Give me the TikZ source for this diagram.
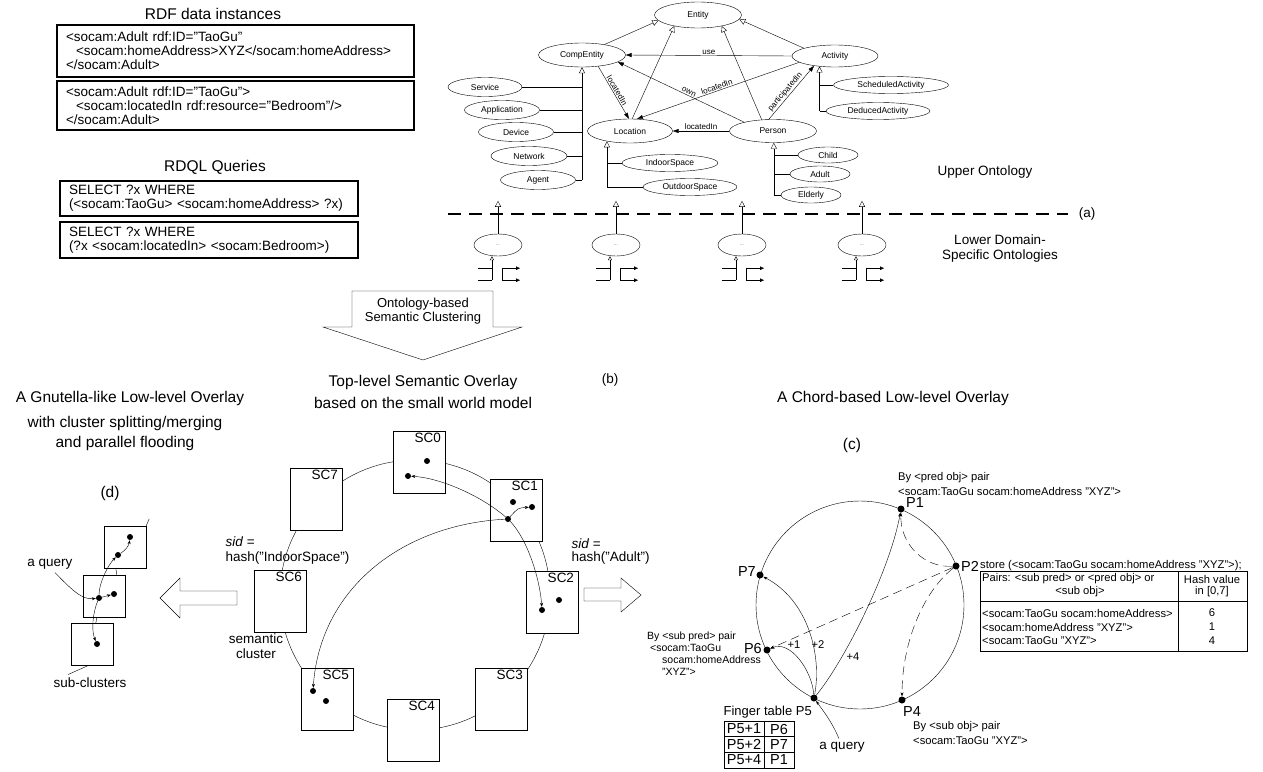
\documentclass[tikz,border=0pt]{standalone}
\usepackage{fontspec}
\setmainfont{Liberation Sans}
\usetikzlibrary{shapes.geometric}
\usetikzlibrary{arrows.meta}
\usetikzlibrary{calc}

\tikzset{
  onto/.style={draw, ellipse, inner sep=0, font=\fontsize{8.5}{9}\selectfont},
  lowonto/.style={draw, ellipse, inner sep=0, minimum width=48, minimum height=22, font=\fontsize{4}{4}\selectfont},
  isa/.style={-{Triangle[open, length=6pt, width=6pt]}},
  smallisa/.style={-{Triangle[open, length=4pt, width=4pt]}},
  rel/.style={-{Triangle[length=6pt, width=4pt]}},
  smallrel/.style={-{Triangle[length=4pt, width=3.5pt]}},
  edgelbl/.style={font=\fontsize{8}{9}\selectfont, inner sep=1},
  rdfbox/.style={draw, line width=1.1, inner xsep=9, align=left, font=\fontsize{13.5}{14}\selectfont},
  ttl/.style={font=\fontsize{15.5}{18}\selectfont},
  lbl/.style={font=\fontsize{13.5}{15}\selectfont},
  plbl/.style={font=\fontsize{14.5}{16}\selectfont, inner sep=1},
  sml/.style={font=\fontsize{11.2}{12.5}\selectfont, inner sep=1},
  scbox/.style={draw, fill=white, minimum width=52, minimum height=62, inner sep=0},
  subbox/.style={draw, fill=white, minimum width=42, minimum height=42, inner sep=0},
  dot/.style={circle, fill, inner sep=0, minimum size=6},
  qry/.style={-{Stealth[length=4pt, width=3pt]}},
}

\begin{document}
\begin{tikzpicture}[x=1pt, y=-1pt]
\useasboundingbox (0,0) rectangle (1263,771);

% RDF data and queries
\node[ttl] (t1) at (213,14) {RDF data instances};
\node[rdfbox, text width=339, minimum height=52] (r1) at (235.5,51) {<socam:Adult rdf:ID="TaoGu"\\\hspace*{10pt}<socam:homeAddress>XYZ</socam:homeAddress>\\</socam:Adult>};
\node[rdfbox, text width=339, minimum height=49] (r2) at (235.5,105.5) {<socam:Adult rdf:ID="TaoGu">\\\hspace*{10pt}<socam:locatedIn rdf:resource="Bedroom"/>\\</socam:Adult>};
\node[ttl] (t2) at (215,167) {RDQL Queries};
\node[rdfbox, text width=280, minimum height=35] (q1) at (209,198.5) {SELECT ?x WHERE\\(<socam:TaoGu> <socam:homeAddress> ?x)};
\node[rdfbox, text width=280, minimum height=36] (q2) at (209,240) {SELECT ?x WHERE\\(?x <socam:locatedIn> <socam:Bedroom>)};

% upper ontology
\node[onto, minimum width=87, minimum height=26] (ent) at (698,15) {Entity};
\node[onto, minimum width=87, minimum height=24] (comp) at (582,55) {CompEntity};
\node[onto, minimum width=86, minimum height=22] (act) at (835,56) {Activity};
\node[onto, minimum width=85, minimum height=24] (loc) at (630,131) {Location};
\node[onto, minimum width=87, minimum height=23] (per) at (773,131) {Person};
\node[onto, minimum width=74, minimum height=19] (serv) at (485,87) {Service};
\node[onto, minimum width=75, minimum height=19] (app) at (502,110) {Application};
\node[onto, minimum width=75, minimum height=19] (dev) at (516,132) {Device};
\node[onto, minimum width=76, minimum height=19] (net) at (529,156) {Network};
\node[onto, minimum width=75, minimum height=19] (agt) at (538,180) {Agent};
\node[onto, minimum width=96, minimum height=17] (ind) at (670,163) {IndoorSpace};
\node[onto, minimum width=94, minimum height=17] (outd) at (690,187) {OutdoorSpace};
\node[onto, minimum width=115, minimum height=17] (sched) at (891,85) {ScheduledActivity};
\node[onto, minimum width=104, minimum height=17] (ded) at (878,111) {DeducedActivity};
\node[onto, minimum width=60, minimum height=16] (chi) at (828,155) {Child};
\node[onto, minimum width=60, minimum height=16] (adu) at (820,174) {Adult};
\node[onto, minimum width=60, minimum height=16] (eld) at (811,195) {Elderly};

\draw[isa] (comp.25) -- (ent.188);
\draw[isa] (loc.80) -- (ent.205);
\draw[isa] (act.166) -- (ent.-6);
\draw[isa] (per.135) -- (ent.-25);
\draw[rel] (act.west) -- (comp.east) node[edgelbl, midway, above] {use};
\draw[rel] (comp.-35) -- (loc.95) node[edgelbl, midway, sloped, above] {locatedIn};
\draw[rel] (per.163) -- (comp.-11) node[edgelbl, pos=.45, sloped, above] {own};
\draw[rel] (act.190) -- (loc.60) node[edgelbl, pos=.5, sloped, above] {locatedIn};
\draw[rel] (per.west) -- (loc.east) node[edgelbl, midway, above] {locatedIn};
\draw[rel] (per.110) -- (act.205) node[edgelbl, pos=.45, sloped, above] {participatedIn};

\draw[isa] (agt.east -| comp.south) -- (comp.south);
\draw (serv.east) -- (serv.east -| comp.south);
\draw (app.east) -- (app.east -| comp.south);
\draw (dev.east) -- (dev.east -| comp.south);
\draw (net.east) -- (net.east -| comp.south);
\draw (agt.east) -- (agt.east -| comp.south);

\coordinate (loctop) at (loc.204);
\draw[isa] (outd.west -| loctop) -- (loctop);
\draw (ind.west) -- (ind.west -| loctop);
\draw (outd.west) -- (outd.west -| loctop);

\coordinate (acttop) at (act.214);
\draw[isa] (ded.west -| acttop) -- (acttop);
\draw (sched.west) -- (sched.west -| acttop);
\draw (ded.west) -- (ded.west -| acttop);

\coordinate (pertop) at (per.-86);
\draw[isa] (eld.west -| pertop) -- (pertop);
\draw (chi.west) -- (chi.west -| pertop);
\draw (adu.west) -- (adu.west -| pertop);
\draw (eld.west) -- (eld.west -| pertop);

\node[lbl] (uo) at (985,172) {Upper Ontology};
\draw[line width=2.2, dash pattern=on 13pt off 8pt] (448,214) -- (1068,214);
\node[lbl] (la) at (1087,214) {(a)};

% lower domain-specific ontologies
\node[lowonto] (lo1) at (498,245) {...};
\node[lowonto] (lo2) at (616,245) {...};
\node[lowonto] (lo3) at (742,245) {...};
\node[lowonto] (lo4) at (862,245) {...};
\draw[isa] (lo1.north) -- ++(0,-33);
\draw[isa] (lo2.north) -- ++(0,-33);
\draw[isa] (lo3.north) -- ++(0,-33);
\draw[isa] (lo4.north) -- ++(0,-33);

\draw[smallisa] ($(lo1.south)+(-6,24)$) -- ($(lo1.south)+(-6,0)$);
\draw ($(lo1.south)+(-20,12)$) -- ++(14,0);
\draw ($(lo1.south)+(-20,24)$) -- ++(14,0);
\draw ($(lo1.south)+(4,12)$) -- ++(0,12);
\draw[smallrel] ($(lo1.south)+(4,12)$) -- ++(18,0);
\draw[smallrel] ($(lo1.south)+(4,24)$) -- ++(18,0);

\draw[smallisa] ($(lo2.south)+(-6,24)$) -- ($(lo2.south)+(-6,0)$);
\draw ($(lo2.south)+(-20,12)$) -- ++(14,0);
\draw ($(lo2.south)+(-20,24)$) -- ++(14,0);
\draw ($(lo2.south)+(4,12)$) -- ++(0,12);
\draw[smallrel] ($(lo2.south)+(4,12)$) -- ++(18,0);
\draw[smallrel] ($(lo2.south)+(4,24)$) -- ++(18,0);

\draw[smallisa] ($(lo3.south)+(-6,24)$) -- ($(lo3.south)+(-6,0)$);
\draw ($(lo3.south)+(-20,12)$) -- ++(14,0);
\draw ($(lo3.south)+(-20,24)$) -- ++(14,0);
\draw ($(lo3.south)+(4,12)$) -- ++(0,12);
\draw[smallrel] ($(lo3.south)+(4,12)$) -- ++(18,0);
\draw[smallrel] ($(lo3.south)+(4,24)$) -- ++(18,0);

\draw[smallisa] ($(lo4.south)+(-6,24)$) -- ($(lo4.south)+(-6,0)$);
\draw ($(lo4.south)+(-20,12)$) -- ++(14,0);
\draw ($(lo4.south)+(-20,24)$) -- ++(14,0);
\draw ($(lo4.south)+(4,12)$) -- ++(0,12);
\draw[smallrel] ($(lo4.south)+(4,12)$) -- ++(18,0);
\draw[smallrel] ($(lo4.south)+(4,24)$) -- ++(18,0);

\node[lbl, align=center, font=\fontsize{13.5}{15}\selectfont] (lod) at (1000,249) {Lower Domain-\\Specific Ontologies};

% clustering arrow
\draw (352,291) -- (493,291) -- (493,327) -- (522,327) -- (423,360) -- (323,327) -- (352,327) -- cycle;
\node[align=center, font=\fontsize{13}{13.5}\selectfont] (clu) at (423,311) {Ontology-based\\Semantic Clustering};

% (b) top-level overlay
\node[ttl] (tb1) at (423,382) {Top-level Semantic Overlay};
\node[ttl] (tb2) at (423,403) {based on the small world model};
\node[lbl] (lb) at (610,380) {(b)};

\coordinate (rc) at (415,595);
\draw (rc) circle (135);
\node[scbox, label={[lbl, anchor=north east, inner xsep=4, inner ysep=2]north east:SC0}] (sc0) at (419,462) {};
\node[scbox, label={[lbl, anchor=north east, inner xsep=4, inner ysep=2]north east:SC1}] (sc1) at (516,510) {};
\node[scbox, label={[lbl, anchor=north east, inner xsep=4, inner ysep=2]north east:SC2}] (sc2) at (552,602) {};
\node[scbox, label={[lbl, anchor=north east, inner xsep=4, inner ysep=2]north east:SC3}] (sc3) at (501,699) {};
\node[scbox, label={[lbl, anchor=north east, inner xsep=4, inner ysep=2]north east:SC4}] (sc4) at (413,730) {};
\node[scbox, label={[lbl, anchor=north east, inner xsep=4, inner ysep=2]north east:SC5}] (sc5) at (327,699) {};
\node[scbox, label={[lbl, anchor=north east, inner xsep=4, inner ysep=2]north east:SC6}] (sc6) at (280,601) {};
\node[scbox, label={[lbl, anchor=north east, inner xsep=4, inner ysep=2]north east:SC7}] (sc7) at (316,499) {};

\node[dot] (d0a) at (427,461) {};
\node[dot] (d0b) at (408,476) {};
\node[dot] (d1a) at (513,502) {};
\node[dot] (d1b) at (532,507) {};
\node[dot] (qs) at (508,519) {};
\node[dot] (d2a) at (559,600) {};
\node[dot] (d2b) at (542,610) {};
\node[dot] (d5a) at (313,691) {};
\node[dot] (d5b) at (326,701) {};

\draw[qry] (qs) .. controls (480,495) and (440,478) .. (d0b);
\draw[qry] (qs) .. controls (528,540) and (540,580) .. (d2b);
\draw[qry] (qs) .. controls (518,508) .. (d1b);
\draw[qry] (qs) .. controls (400,525) and (320,590) .. (d5a);

\node[lbl, anchor=west] (sidl) at (222,542) {\textit{sid} =};
\node[lbl, anchor=west] (hashl) at (222,558) {hash("IndoorSpace")};
\node[lbl, align=center] (semc) at (256,646) {semantic\\cluster};
\node[lbl, anchor=west] (sidr) at (568,544) {\textit{sid} =};
\node[lbl, anchor=west] (hashr) at (568,558) {hash("Adult")};

% hollow arrows
\draw (237,591) -- (180,591) -- (180,578) -- (160,598) -- (180,618) -- (180,605) -- (237,605) -- cycle;
\draw (584,588) -- (621,588) -- (621,578) -- (641,595) -- (621,612) -- (621,601) -- (584,601) -- cycle;

% (d) gnutella-like overlay
\node[ttl] (td1) at (130,398) {A Gnutella-like Low-level Overlay};
\node[ttl] (td2) at (125,423) {with cluster splitting/merging};
\node[ttl] (td3) at (125,443) {and parallel flooding};
\node[ttl] (ld) at (110,493) {(d)};

\node[subbox] (sub1) at (125,547) {};
\node[subbox] (sub2) at (104,596) {};
\node[subbox] (sub3) at (92,644.5) {};
\draw ($(sub1.south west)+(12,0)$) -- ($(sub2.north west)+(34,0)$);
\draw ($(sub2.south west)+(14,0)$) -- ($(sub3.north west)+(25,0)$);
\draw (sub1.north east) -- ++(3,-7);
\node[lbl] (scl) at (90,683) {sub-clusters};
\draw ($(sub3.south west)+(17,0)$) -- ($(scl.north west)+(18,0)$);

\node[dot] (t1d) at (130,537) {};
\node[dot] (t2d) at (118,555) {};
\node[dot] (m1d) at (99,598) {};
\node[dot] (m2d) at (114,594) {};
\node[dot] (b1d) at (97,644) {};
\draw[qry] (m1d) .. controls (99,583) and (108,565) .. (t2d);
\draw[qry] (t2d) .. controls (126,550) and (129,545) .. (t1d);
\draw[qry] (m1d) -- (m2d);
\draw[qry] (m1d) .. controls (93,612) and (91,630) .. (b1d);
\node[lbl] (aqd) at (50,564) {a query};
\draw[qry] (aqd.-60) .. controls (72,590) and (82,600) .. (m1d);

% (c) chord-based overlay
\node[ttl] (tc) at (893,398) {A Chord-based Low-level Overlay};
\node[ttl] (lc) at (852,445) {(c)};

\coordinate (cc) at (860,605);
\draw (cc) circle (104);
\node[dot, minimum size=7] (p1) at (901,509) {};
\node[dot, minimum size=7] (p2) at (956,566) {};
\node[dot, minimum size=7] (p7) at (760,575) {};
\node[dot, minimum size=7] (p6) at (767,650) {};
\node[dot, minimum size=7] (p5) at (814,698) {};
\node[dot, minimum size=7] (p4) at (902,700) {};
\node[plbl, anchor=west] at (905,503) {P1};
\node[plbl, anchor=west] at (960,566) {P2};
\node[plbl, anchor=east] at (757,572) {P7};
\node[plbl, anchor=east] at (763,648) {P6};
\node[plbl, anchor=north west] at (902,705) {P4};

\draw[qry] (p5) .. controls (845,660) and (890,570) .. (p1);
\draw[qry] (p5) .. controls (822,655) and (808,600) .. (p7);
\draw[qry] (p5) .. controls (812,670) and (790,640) .. (p6);
\draw[qry, dash pattern=on 9pt off 5pt] (p2) -- (p6);
\draw[qry, dash pattern=on 9pt off 5pt] (p2) .. controls (925,568) and (900,545) .. (p1);
\draw[qry, dash pattern=on 9pt off 5pt] (p2) .. controls (925,590) and (902,640) .. (p4);
\node[sml] (f1) at (794,645) {+1};
\node[sml] (f2) at (818,645) {+2};
\node[sml] (f4) at (853,657) {+4};

\node[lbl] (aqc) at (842,747) {a query};
\draw[qry] (aqc.110) .. controls (832,722) and (824,712) .. (p5);

\node[sml, anchor=west] (pp1) at (897,478) {By <pred obj> pair};
\node[sml, anchor=west] (pp2) at (897,491) {<socam:TaoGu socam:homeAddress "XYZ">};
\node[sml, anchor=west] (so1) at (912,727) {By <sub obj> pair};
\node[sml, anchor=west] (so2) at (912,741) {<socam:TaoGu "XYZ">};
\node[anchor=north west, align=left, inner sep=1, font=\fontsize{10.5}{12}\selectfont] (sp) at (646,631) {By <sub pred> pair\\\hspace*{3pt}<socam:TaoGu\\\hspace*{15pt}socam:homeAddress\\\hspace*{15pt}"XYZ">};

% store table
\node[sml, anchor=west] (st) at (979,566) {store (<socam:TaoGu socam:homeAddress "XYZ">);};
\node[draw, line width=1, minimum width=267, minimum height=80, anchor=north west, inner sep=0] (tbl) at (980,571) {};
\draw[line width=1] ($(tbl.north west)+(198,0)$) -- ($(tbl.south west)+(198,0)$);
\draw[line width=1] ($(tbl.north west)+(0,30)$) -- ($(tbl.north east)+(0,30)$);
\node[sml, anchor=west] at (981,579) {Pairs: <sub pred> or <pred obj> or};
\node[sml] at (1080,592) {<sub obj>};
\node[sml] at (1212,579) {Hash value};
\node[sml] at (1212,592) {in [0,7]};
\node[sml, anchor=west] at (981,613) {<socam:TaoGu socam:homeAddress>};
\node[sml] at (1212,613) {6};
\node[sml, anchor=west] at (981,627) {<socam:homeAddress "XYZ">};
\node[sml] at (1212,627) {1};
\node[sml, anchor=west] at (981,641) {<socam:TaoGu "XYZ">};
\node[sml] at (1212,641) {4};

% finger table
\node[font=\fontsize{13}{14}\selectfont, anchor=east, inner sep=1] (ftl) at (813,712) {Finger table P5};
\node[draw, line width=1, minimum width=70, minimum height=47, anchor=north west, inner sep=0] (ft) at (724,721) {};
\draw[line width=1] ($(ft.north west)+(40,0)$) -- ($(ft.south west)+(40,0)$);
\draw[line width=1] ($(ft.north west)+(0,15.7)$) -- ($(ft.north east)+(0,15.7)$);
\draw[line width=1] ($(ft.north west)+(0,31.3)$) -- ($(ft.north east)+(0,31.3)$);
\node[plbl] at (744,729) {P5+1};
\node[plbl] at (779,729) {P6};
\node[plbl] at (744,744.5) {P5+2};
\node[plbl] at (779,744.5) {P7};
\node[plbl] at (744,760) {P5+4};
\node[plbl] at (779,760) {P1};
\end{tikzpicture}
\end{document}
